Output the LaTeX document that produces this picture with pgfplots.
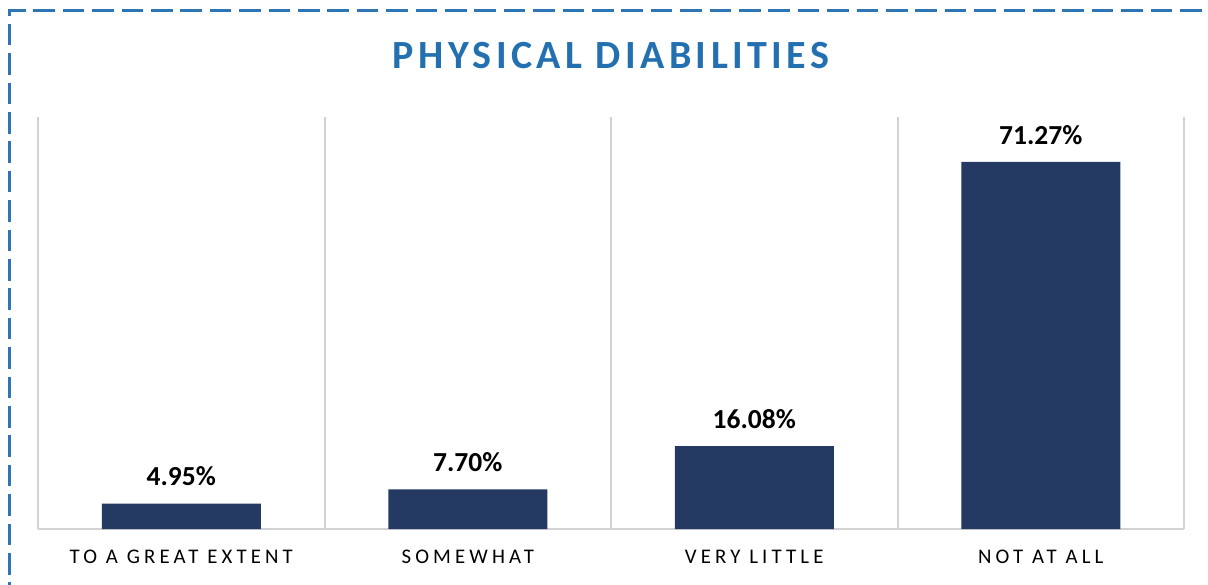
\documentclass[border=0pt]{standalone}
\usepackage{fontspec}
\setmainfont{Carlito}
\newfontfamily\titlefont[LetterSpace=11]{Carlito}
\newfontfamily\tickfont[LetterSpace=20]{Carlito}
\usepackage{pgfplots}
\pgfplotsset{compat=1.18}
\definecolor{barcol}{RGB}{36,58,99}
\definecolor{titlecol}{RGB}{34,112,176}
\definecolor{bordercol}{RGB}{46,117,182}
\definecolor{gridcol}{RGB}{210,210,210}
\begin{document}
\begin{tikzpicture}
\useasboundingbox (0,0) rectangle (604pt,292pt);
\draw[bordercol, line width=1.5pt, dash pattern=on 10.8pt off 3.9pt]
  (4.5pt,-10pt) -- (4.5pt,286.5pt) -- (620pt,286.5pt);
\node[anchor=base, text=titlecol, inner sep=0pt] at (305.5pt,257.5pt)
  {\titlefont\fontsize{20}{24}\selectfont\bfseries PHYSICAL DIABILITIES};
\begin{axis}[
  at={(19pt,27.5pt)}, anchor=south west,
  scale only axis, width=573pt, height=206pt,
  xmin=0, xmax=4, ymin=0, ymax=80,
  axis x line=bottom, axis y line=none,
  x axis line style={-, draw=gridcol, line width=1pt},
  xtick={0.5,1.5,2.5,3.5},
  xticklabels={TO A GREAT EXTENT, SOMEWHAT, VERY LITTLE, NOT AT ALL},
  minor xtick={0,1,2,3,4},
  xminorgrids=true, xmajorgrids=false,
  minor grid style={draw=gridcol, line width=1pt},
  major tick length=0pt, minor tick length=0pt,
  xticklabel style={anchor=base, yshift=-17pt, inner sep=0pt,
    font=\tickfont\fontsize{10.4}{12}\selectfont, text=black},
  ybar, bar width=79.5pt,
  nodes near coords={\pgfmathprintnumber[fixed,fixed zerofill,precision=2,assume math mode=true]{\pgfplotspointmeta}\%},
  nodes near coords style={anchor=south, inner sep=0pt, yshift=8.5pt,
    font=\fontsize{13.75}{16}\selectfont\bfseries, text=black},
]
\addplot[fill=barcol, draw=none] coordinates {(0.5,4.95) (1.5,7.70) (2.5,16.08) (3.5,71.27)};
\end{axis}
\end{tikzpicture}
\end{document}
